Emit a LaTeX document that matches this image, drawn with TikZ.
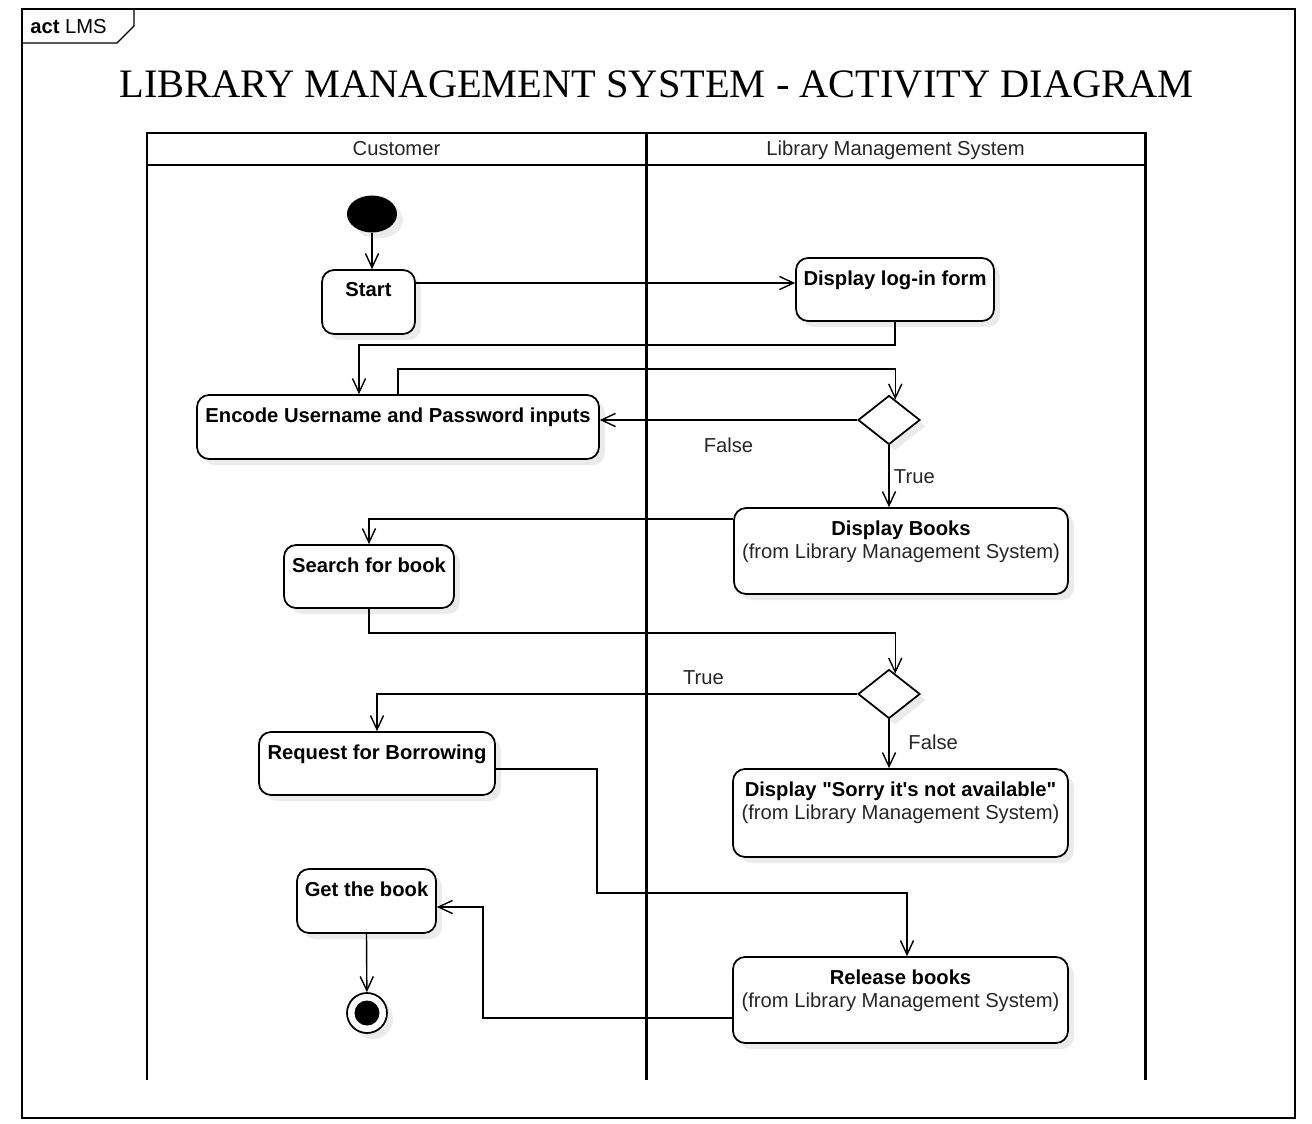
\documentclass[tikz,border=0pt]{standalone}
\usepackage{fontspec}
\setmainfont{Liberation Sans}[Ligatures=TeXOff]
\newfontfamily\titlefont{Liberation Serif}[Ligatures=TeXOff]
\usetikzlibrary{arrows.meta,shapes.geometric,shadows,calc}

\tikzset{
  frame/.style={line width=0.8pt},
  lane/.style={line width=1.7pt},
  lanehead/.style={anchor=base, text=black!85},
  shade/.style={drop shadow={shadow xshift=0.12cm, shadow yshift=-0.12cm, fill=black, opacity=0.08}},
  action/.style={draw, line width=1pt, rounded corners=0.24cm, fill=white, shade},
  inlbl/.style={anchor=north, inner xsep=2pt, inner ysep=7.5pt, align=center,
    font=\fontsize{11.5}{13}\selectfont\bfseries},
  decision/.style={diamond, draw, line width=1pt, fill=white, inner sep=0pt,
    minimum width=1.24cm, minimum height=0.98cm, shade},
  initial/.style={ellipse, fill=black, inner sep=0pt, minimum width=1cm, minimum height=0.74cm, shade},
  final/.style={circle, draw, line width=1pt, fill=white, inner sep=0pt, minimum size=0.8cm, shade,
    path picture={\fill[black] (path picture bounding box.center) circle (0.25cm);}},
  flow/.style={line width=0.8pt, -{Straight Barb[length=8pt, width=7.5pt]}},
  lbl/.style={inner sep=1pt, text=black!85}
}

\begin{document}
\begin{tikzpicture}[x=0.02cm, y=-0.02cm, font=\fontsize{11.5}{13}\selectfont]
\useasboundingbox (0,0) rectangle (1312,1123);

% Frame and its tag
\draw[frame] (22,9) rectangle (1295,1118);
\draw[frame] (22,43) -- (117,43) -- (134,26) -- (134,9);
\node[anchor=base west, inner sep=0pt] (tag) at (30,33) {\textbf{act} LMS};

% Title
\node[anchor=base, inner sep=0pt, font=\titlefont\fontsize{23}{26}\selectfont] (title) at (656.5,97)
  {LIBRARY MANAGEMENT SYSTEM - ACTIVITY DIAGRAM};

% Swimlanes
\draw[lane] (147,1080) -- (147,133) -- (1145,133) -- (1145,1080);
\draw[lane] (147,165) -- (1145,165);
\draw[lane] (646,133) -- (646,1080);
\node[lanehead] (cust) at (396.5,155) {Customer};
\node[lanehead] (lms) at (895.5,155) {Library Management System};

% Customer lane
\node[initial] (init) at (372,214) {};
\node[action, minimum width=1.86cm, minimum height=1.28cm, label={[inlbl]north:Start}] (start) at (368.5,302) {};
\node[action, minimum width=8.04cm, minimum height=1.28cm, label={[inlbl]north:Encode Username and Password inputs}] (enc) at (398,427) {};
\node[action, minimum width=3.4cm, minimum height=1.26cm, label={[inlbl]north:Search for book}] (search) at (369,576.5) {};
\node[action, minimum width=4.72cm, minimum height=1.26cm, label={[inlbl]north:Request for Borrowing}] (request) at (377,763.5) {};
\node[action, minimum width=2.78cm, minimum height=1.28cm, label={[inlbl]north:Get the book}] (getbook) at (366.5,901) {};
\node[final] (final) at (367,1013) {};

% Library Management System lane
\node[action, minimum width=3.96cm, minimum height=1.26cm, label={[inlbl]north:Display log-in form}] (login) at (895,289.5) {};
\node[decision] (d1) at (889,420) {};
\node[action, minimum width=6.68cm, minimum height=1.72cm,
  label={[inlbl]north:Display Books\\\mdseries\color{black!85}(from Library Management System)}] (books) at (901,551) {};
\node[decision] (d2) at (889,694) {};
\node[action, minimum width=6.7cm, minimum height=1.76cm,
  label={[inlbl]north:Display "Sorry it's not available"\\\mdseries\color{black!85}(from Library Management System)}] (sorry) at (900.5,813) {};
\node[action, minimum width=6.7cm, minimum height=1.72cm,
  label={[inlbl]north:Release books\\\mdseries\color{black!85}(from Library Management System)}] (release) at (900.5,1000) {};

% Control flows
\draw[flow] (init) -- (init.south |- start.north);
\draw[flow] ([yshift=0.38cm]start.east) -- ([yshift=0.38cm]start.east -| login.west);
\draw[flow] (login.south) -- ++(0,23) -| ([xshift=-0.78cm]enc.north);
\draw[flow] (enc.north) -- ++(0,-25) -| (d1.73);
\draw[flow] (d1.west) -- node[lbl, below=3mm] {False} (d1.west -| enc.east);
\draw[flow] (d1.south) -- node[lbl, right=0.5mm] {True} (d1.south |- books.north);
\draw[flow] ([yshift=0.64cm]books.west) -| (search.north);
\draw[flow] (search.south) -- ++(0,24) -| (d2.73);
\draw[flow] (d2.west) -| node[lbl, pos=0.16, above=1.4mm] {True} (request.north);
\draw[flow] (d2.south) -- node[lbl, pos=0.46, right=3.4mm] {False} (d2.south |- sorry.north);
\draw[flow] ([yshift=-0.11cm]request.east) -- ++(101,0) -- ++(0,124) -| ([xshift=0.13cm]release.north);
\draw[flow] ([yshift=-0.36cm]release.west) -- ++(-249,0) |- ([yshift=-0.12cm]getbook.east);
\draw[flow] (getbook.south) -- (final);
\end{tikzpicture}
\end{document}
